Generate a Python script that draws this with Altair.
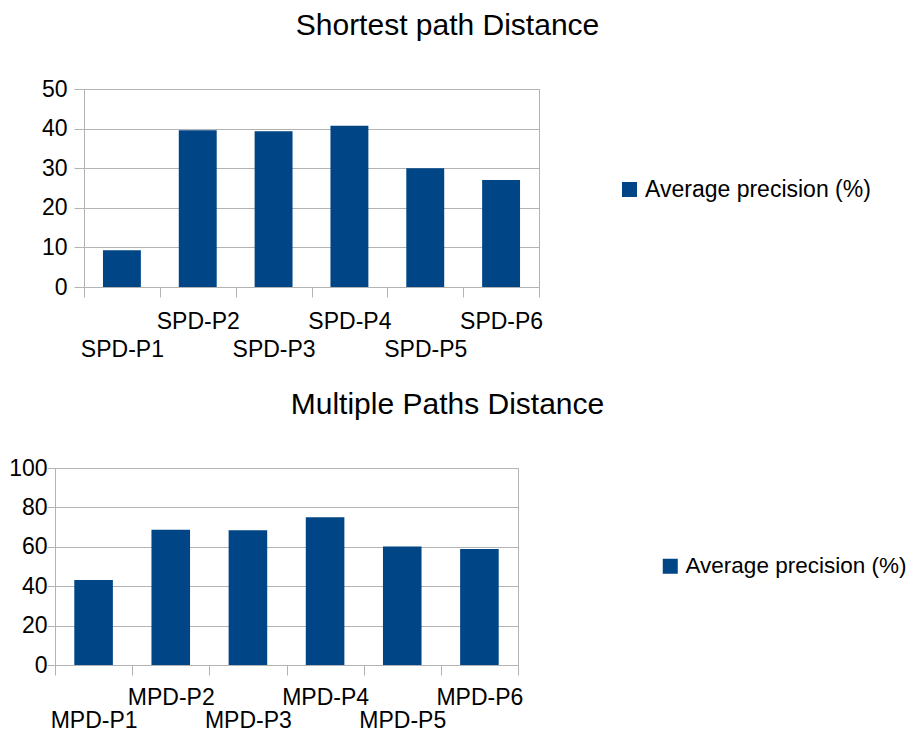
import json
import altair as alt
import pandas as pd

spd_labels = ["SPD-P1", "SPD-P2", "SPD-P3", "SPD-P4", "SPD-P5", "SPD-P6"]
spd_values = [9.3, 39.6, 39.3, 40.7, 30.0, 27.0]
mpd_labels = ["MPD-P1", "MPD-P2", "MPD-P3", "MPD-P4", "MPD-P5", "MPD-P6"]
mpd_values = [43.2, 68.6, 68.4, 75.0, 60.1, 58.9]
series_name = "Average precision (%)"
spd_title = "Shortest path Distance"
mpd_title = "Multiple Paths Distance"
spd_ticks = [0, 10, 20, 30, 40, 50]
mpd_ticks = [0, 20, 40, 60, 80, 100]

FONT = "Liberation Sans"
GRID = "#b3b3b3"
BAR = "#004586"


def panel(labels, values, title, ticks, width, height, title_dx,
          ytick, ypad, xpad_hi, xpad_lo, legend_x, legend_y, legend_fs):
    df = pd.DataFrame({"cat": labels, "val": values, "series": series_name})
    low_row = labels[0::2]
    test = "indexof(%s, datum.value) >= 0" % json.dumps(low_row)
    return alt.Chart(df).mark_bar(width=alt.RelativeBandSize(0.5)).encode(
        x=alt.X(
            "cat:N", sort=labels, title=None,
            scale=alt.Scale(paddingInner=0, paddingOuter=0),
            axis=alt.Axis(
                labelAngle=0, tickBand="extent", grid=False,
                domainColor=GRID, tickColor=GRID, tickSize=10,
                labelPadding={"condition": {"test": test, "value": xpad_lo},
                              "value": xpad_hi},
                labelFontSize=23, labelColor="black", labelFont=FONT,
                labelOverlap=False, labelBound=False, labelFlush=False,
            ),
        ),
        y=alt.Y(
            "val:Q", title=None,
            scale=alt.Scale(domain=[ticks[0], ticks[-1]], nice=False),
            axis=alt.Axis(
                values=ticks, gridColor=GRID, domainColor=GRID, tickColor=GRID,
                tickSize=ytick, labelPadding=ypad, labelFontSize=23,
                labelColor="black", labelFont=FONT,
            ),
        ),
        color=alt.Color(
            "series:N",
            scale=alt.Scale(range=[BAR]),
            legend=alt.Legend(
                title=None, orient="none", legendX=legend_x, legendY=legend_y,
                symbolType="square", symbolSize=225, symbolStrokeWidth=0,
                labelFontSize=legend_fs, labelFont=FONT, labelColor="black",
                labelOffset=4, labelLimit=0,
            ),
        ),
    ).properties(
        width=width, height=height,
        title=alt.Title(title, fontSize=30, font=FONT, fontWeight="normal",
                        anchor="middle", frame="group", dx=title_dx, offset=37,
                        color="black"),
    )


top = panel(spd_labels, spd_values, spd_title, spd_ticks, 455, 198,
            136, 10, 7, 13, 41, 534, 89, 23)
bottom = panel(mpd_labels, mpd_values, mpd_title, mpd_ticks, 463, 197,
               161, 8, 0, 11, 34, 604, 87, 22.5)

spacer = alt.Chart(pd.DataFrame({"s": [0]})).mark_point(opacity=0).properties(
    width=29, height=198, view=alt.ViewBackground(strokeOpacity=0))

top_row = alt.hconcat(spacer, top, spacing=0, bounds="flush").resolve_scale(
    color="independent").resolve_legend(color="independent")

chart = alt.vconcat(top_row, bottom, spacing=379, bounds="flush").resolve_scale(
    color="independent").resolve_legend(color="independent").properties(
    padding={"top": 2, "left": 0, "right": 0, "bottom": 0}).configure_view(
    stroke=GRID)

chart.save("out.html", embed_options={"renderer": "svg", "actions": False})
